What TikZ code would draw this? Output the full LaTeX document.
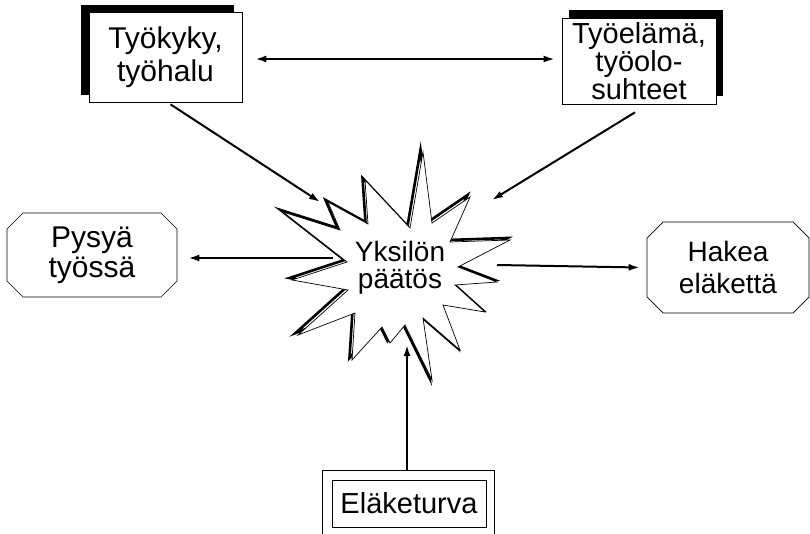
\documentclass[tikz,border=0pt]{standalone}
\usepackage{fontspec}
\setmainfont{Liberation Sans}
\usetikzlibrary{arrows.meta,shapes.misc,backgrounds}

\tikzset{
  sbox/.style={draw, line width=0.7pt, fill=white, align=center, inner sep=0pt},
  cutbox/.style={sbox, chamfered rectangle, chamfered rectangle xsep=8pt,
    chamfered rectangle ysep=8pt},
}

\def\burstpath{(423,152) -- (432,223) -- (470,197) -- (450,242) -- (510,240)
  -- (458,267) -- (497,282) -- (455,285) -- (485,312) -- (443,305) -- (460,350)
  -- (423,318) -- (432,380) -- (405,325) -- (390,343) -- (382,327) -- (352,360)
  -- (355,313) -- (298,335) -- (348,290) -- (292,280) -- (347,262) -- (283,212)
  -- (340,230) -- (328,202) -- (368,224) -- (365,180) -- (410,228) -- cycle}

\begin{document}
\begin{tikzpicture}[x=1pt, y=-1pt, line width=2pt,
    >={Latex[length=11pt,width=7pt]}]
  \useasboundingbox (0,0) rectangle (810,534);

  % the five boxes
  \node[sbox, minimum width=153pt, minimum height=90pt,
    font=\fontsize{30}{33}\selectfont] (kyky) at (165.5,57) {Työkyky,\\työhalu};
  \node[sbox, minimum width=154pt, minimum height=86pt,
    font=\fontsize{29}{24}\selectfont] (elama) at (639,61) {Työelämä,\\työolo-\\suhteet};
  \node[cutbox, minimum width=170pt, minimum height=84pt,
    font=\fontsize{30}{30}\selectfont] (pysya) at (92,255) {Pysyä\\työssä};
  \node[cutbox, minimum width=162pt, minimum height=91pt,
    font=\fontsize{28}{32}\selectfont] (hakea) at (728,267.5) {Hakea\\eläkettä};
  \node[sbox, minimum width=154pt, minimum height=47pt,
    font=\fontsize{29}{32}\selectfont] (turva) at (409,503.5) {Eläketurva};
  \draw[line width=0.7pt] ([xshift=-9pt,yshift=9pt]turva.north west)
    rectangle ([xshift=8pt,yshift=-10pt]turva.south east);

  \begin{scope}[on background layer]
    \fill ([xshift=-8pt,yshift=7pt]kyky.north west) rectangle ([xshift=-8pt,yshift=7pt]kyky.south east);
    \fill ([xshift=7pt,yshift=8pt]elama.north west) rectangle ([xshift=7pt,yshift=8pt]elama.south east);
  \end{scope}

  % the burst
  \draw[line width=2.6pt, xshift=-2.5pt, yshift=2pt] \burstpath;
  \draw[line width=0.7pt, fill=white] \burstpath;
  \node[align=center, font=\fontsize{28}{27}\selectfont] (paatos) at (400,268) {Yksilön\\päätös};

  \coordinate (hit1) at (320,202);
  \coordinate (hit2) at (492,200);
  \coordinate (hit3) at (407,345);
  \coordinate (out1) at (333,258);
  \coordinate (out2) at (497,265);

  % arrows
  \draw[<->] ([xshift=13pt,yshift=-2pt]kyky.east) -- ([xshift=-7pt,yshift=2pt]elama.west);
  \draw[->] ([xshift=5pt,yshift=-2pt]kyky.south) -- (hit1);
  \draw[->] ([xshift=-4pt,yshift=-8pt]elama.south) -- (hit2);
  \draw[->] (out1) -- ([xshift=11pt,yshift=-3pt]pysya.east);
  \draw[->] (out2) -- ([xshift=-7pt]hakea.west);
  \draw[->] ([xshift=-2pt,yshift=9pt]turva.north) -- (hit3);
\end{tikzpicture}
\end{document}
